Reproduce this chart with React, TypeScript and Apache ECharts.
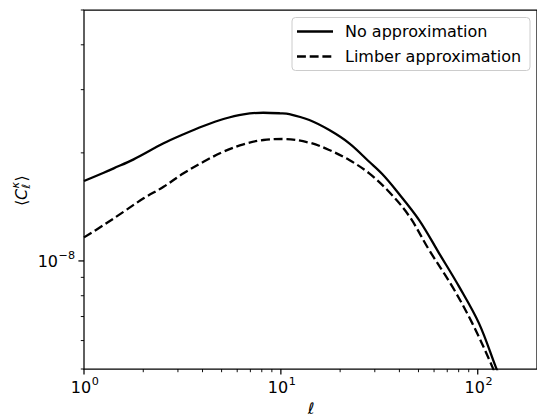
import React, { useEffect, useRef } from "react";
import * as echarts from "echarts";

// ---- data ----
const noApproxEll = [1.0, 1.259, 1.415, 1.787, 2.536, 3.203, 4.046, 5.11, 6.454, 8.153, 9.91, 11.04, 13.95, 17.62, 22.26, 28.11, 32.72, 38.39, 50.39, 63.66, 80.4, 101.5, 123.4, 135.9];
const noApproxC = [1.67e-8, 1.761e-8, 1.811e-8, 1.918e-8, 2.126e-8, 2.253e-8, 2.376e-8, 2.485e-8, 2.561e-8, 2.587e-8, 2.578e-8, 2.566e-8, 2.469e-8, 2.315e-8, 2.126e-8, 1.889e-8, 1.746e-8, 1.576e-8, 1.3e-8, 1.05e-8, 8.48e-9, 6.7e-9, 5.07e-9, 4.43e-9];
const limberEll = [1.0, 1.259, 1.59, 2.008, 2.536, 3.203, 4.046, 5.11, 6.454, 8.153, 10.3, 13.95, 17.62, 22.26, 28.11, 35.5, 44.83, 56.62, 74.32, 93.89, 118.6, 131.3];
const limberC = [1.163e-8, 1.259e-8, 1.371e-8, 1.494e-8, 1.609e-8, 1.754e-8, 1.889e-8, 2.015e-8, 2.113e-8, 2.172e-8, 2.186e-8, 2.135e-8, 2.037e-8, 1.91e-8, 1.754e-8, 1.556e-8, 1.334e-8, 1.073e-8, 8.48e-9, 6.7e-9, 5.07e-9, 4.37e-9];

const seriesNames = ["No approximation", "Limber approximation"];

const X_MIN = 1;
const X_MAX = 200;
const Y_MIN = 5e-9;
const Y_MAX = 5e-8;

const xMajorTicks = [1, 10, 100];
const xMinorTicks = [2, 3, 4, 5, 6, 7, 8, 9, 20, 30, 40, 50, 60, 70, 80, 90];
const yMajorTicks = [1e-8];
const yMinorTicks = [5e-9, 6e-9, 7e-9, 8e-9, 9e-9, 2e-8, 3e-8, 4e-8, 5e-8];

const FAMILY = '"DejaVu Sans", sans-serif';
const font = (size: number, italic = false) => `${italic ? "italic " : ""}${size}px ${FAMILY}`;

function txt(text: string, x: number, y: number, size: number, align: string, italic = false) {
  return {
    type: "text",
    x,
    y,
    style: {
      text,
      font: font(size, italic),
      fill: "#000",
      align,
      verticalAlign: "middle",
      textAlign: align,
      textVerticalAlign: "middle",
    },
  };
}

function renderTick(_params: any, api: any) {
  const kind = api.value(2) as number; // 0 x-minor, 1 x-major, 2 y-minor, 3 y-major
  const xv = api.value(0) as number;
  const yv = api.value(1) as number;
  const p = api.coord([xv, yv]);
  const isX = kind < 2;
  const major = kind % 2 === 1;
  const len = major ? 5.6 : 3.2;
  const lw = major ? 1.25 : 0.95;
  const children: any[] = [];
  if (isX) {
    children.push({ type: "line", shape: { x1: p[0], y1: p[1], x2: p[0], y2: p[1] + len }, style: { stroke: "#000", lineWidth: lw } });
  } else {
    children.push({ type: "line", shape: { x1: p[0] - len, y1: p[1], x2: p[0], y2: p[1] }, style: { stroke: "#000", lineWidth: lw } });
  }
  if (major) {
    const v = isX ? xv : yv;
    const e = Math.round(Math.log10(v));
    const expText = e < 0 ? "\u2212" + String(-e) : String(e);
    if (isX) {
      children.push(txt("10", p[0] + 7.2, p[1] + 18.5, 16, "right"));
      children.push(txt(expText, p[0] + 7.8, p[1] + 12.9, 11.2, "left"));
    } else {
      children.push(txt("10", p[0] - 26, p[1] + 0.5, 16, "right"));
      children.push(txt(expText, p[0] - 25.4, p[1] - 5, 11.2, "left"));
    }
  }
  return { type: "group", children };
}

export default function App() {
  const ref = useRef<HTMLDivElement>(null);
  useEffect(() => {
    if (!ref.current) return;
    const chart = echarts.init(ref.current, null, { renderer: "svg" });

    const tickData: number[][] = [
      ...xMinorTicks.map((v) => [v, Y_MIN, 0]),
      ...xMajorTicks.map((v) => [v, Y_MIN, 1]),
      ...yMinorTicks.map((v) => [X_MIN, v, 2]),
      ...yMajorTicks.map((v) => [X_MIN, v, 3]),
    ];

    const hiddenAxis = {
      axisLine: { show: false },
      axisTick: { show: false },
      axisLabel: { show: false },
      splitLine: { show: false },
      minorTick: { show: false },
      minorSplitLine: { show: false },
    };

    const legendY1 = 31.5;
    const legendY2 = 56.5;

    chart.setOption({
      animation: false,
      textStyle: { fontFamily: FAMILY },
      grid: {
        left: 84,
        top: 10,
        right: -1,
        bottom: 47,
        show: true,
        borderColor: "#000",
        borderWidth: 1.25,
        backgroundColor: "transparent",
      },
      xAxis: { type: "log", logBase: 10, min: X_MIN, max: X_MAX, ...hiddenAxis },
      yAxis: { type: "log", logBase: 10, min: Y_MIN, max: Y_MAX, ...hiddenAxis },
      series: [
        {
          name: seriesNames[0],
          type: "line",
          data: noApproxEll.map((x, i) => [x, noApproxC[i]]),
          showSymbol: false,
          symbol: "none",
          smooth: 0.35,
          lineStyle: { color: "#000", width: 2.3, join: "round", cap: "butt" },
          clip: true,
          z: 3,
        },
        {
          name: seriesNames[1],
          type: "line",
          data: limberEll.map((x, i) => [x, limberC[i]]),
          showSymbol: false,
          symbol: "none",
          smooth: 0.35,
          lineStyle: { color: "#000", width: 2.3, type: [8.9, 3.8], join: "round", cap: "butt" },
          clip: true,
          z: 3,
        },
        {
          type: "custom",
          data: tickData,
          encode: { x: 0, y: 1 },
          renderItem: renderTick,
          clip: false,
          silent: true,
          z: 5,
        },
      ],
      graphic: [
        // x label
        txt("\u2113", 311, 408, 16, "center", true),
        // y label: <C_ell^kappa>, rotated
        {
          type: "group",
          x: 21,
          y: 191.5,
          rotation: Math.PI / 2,
          children: [
            txt("\u27E8", -14.5, 0, 16, "left"),
            txt("C", -8.5, 0, 16, "left", true),
            txt("\u03BA", 3, -5.5, 11.2, "left", true),
            txt("\u2113", 3, 5, 11.2, "left", true),
            txt("\u27E9", 10, 0, 16, "left"),
          ],
        },
        // legend
        {
          type: "rect",
          shape: { x: 292, y: 17.5, width: 238, height: 53, r: 3.5 },
          style: { fill: "rgba(255,255,255,0.8)", stroke: "#cccccc", lineWidth: 1 },
          z: 10,
        },
        {
          type: "line",
          shape: { x1: 297, y1: legendY1, x2: 333, y2: legendY1 },
          style: { stroke: "#000", lineWidth: 2.3 },
          z: 11,
        },
        {
          type: "line",
          shape: { x1: 297, y1: legendY2, x2: 333, y2: legendY2 },
          style: { stroke: "#000", lineWidth: 2.3, lineDash: [8.9, 3.8] },
          z: 11,
        },
        { ...txt(seriesNames[0], 345, legendY1, 16, "left"), z: 11 },
        { ...txt(seriesNames[1], 345, legendY2, 16, "left"), z: 11 },
      ],
    });

    return () => chart.dispose();
  }, []);

  return (
    <div
      ref={ref}
      style={{ position: "absolute", left: 0, top: 0, width: 537, height: 416, background: "#fff" }}
    />
  );
}
